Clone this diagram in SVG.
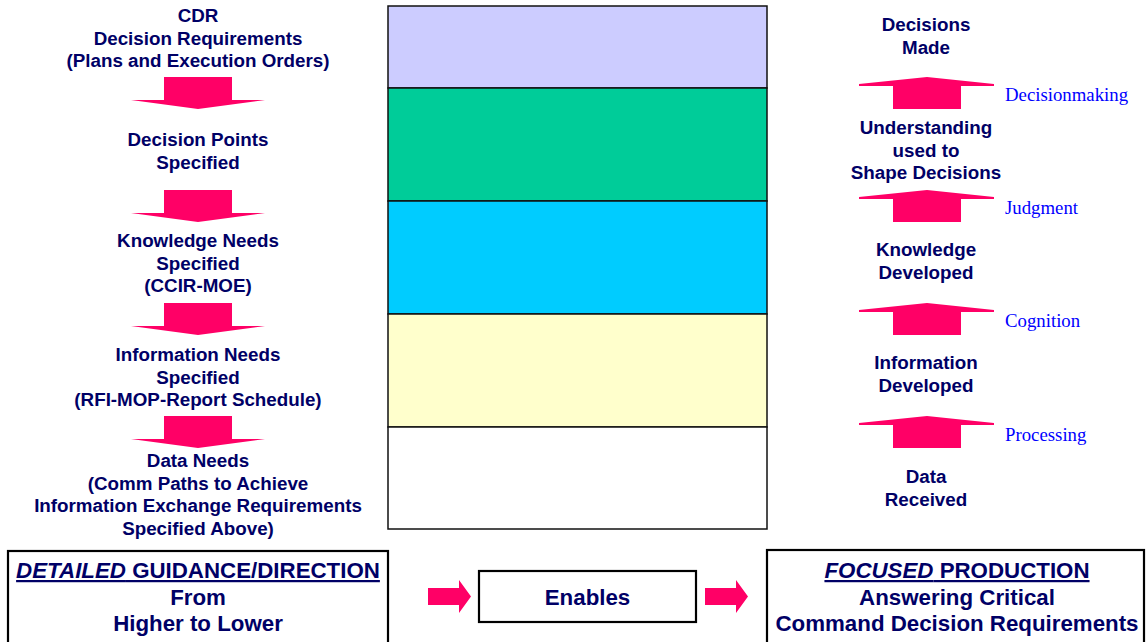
<svg xmlns="http://www.w3.org/2000/svg" width="1146" height="642" viewBox="0 0 1146 642">
  <style>
    .lbl { font-family: "Liberation Sans", Arial, sans-serif; font-weight: bold; font-size: 18.8px; fill: #000066; text-anchor: middle; }
    .big { font-family: "Liberation Sans", Arial, sans-serif; font-weight: bold; font-size: 22.3px; fill: #000066; text-anchor: middle; }
    .proc { font-family: "Liberation Serif", "Times New Roman", serif; font-size: 18.8px; fill: #0000FF; }
    .band { stroke: #111111; stroke-width: 1.5; }
    .box { fill: #FFFFFF; stroke: #000000; stroke-width: 2.2; }
    .arrow { fill: #FF0066; }
  </style>
  <defs>
    <!-- flat downward block arrow, tip at (0,32) -->
    <polygon id="down" class="arrow" points="-34,0 34,0 34,23 67,23 0,32 -67,23 -34,23"/>
    <!-- flat upward block arrow, tip at (0,0) -->
    <polygon id="up" class="arrow" points="0,0 67,7 67,9 34,9 34,32 -34,32 -34,9 -68,9 -68,7"/>
    <!-- small right-pointing block arrow -->
    <polygon id="right" class="arrow" points="0,8 31,8 31,0 43,16.5 31,33 31,25 0,25"/>
  </defs>
  <rect width="1146" height="642" fill="#FFFFFF"/>

  <!-- central stacked bands -->
  <g id="bands">
    <rect class="band" x="388" y="6" width="379" height="82" fill="#CCCCFF"/>
    <rect class="band" x="388" y="88" width="379" height="113" fill="#00CC99"/>
    <rect class="band" x="388" y="201" width="379" height="113" fill="#00CCFF"/>
    <rect class="band" x="388" y="314" width="379" height="113" fill="#FFFFCC"/>
    <rect class="band" x="388" y="427" width="379" height="102" fill="#FFFFFF"/>
  </g>

  <!-- left column: requirements flowing down -->
  <g id="cdr">
    <text class="lbl" x="198" y="22">CDR</text>
    <text class="lbl" x="198" y="44.5">Decision Requirements</text>
    <text class="lbl" x="198" y="67">(Plans and Execution Orders)</text>
  </g>
  <g id="decision-points">
    <text class="lbl" x="198" y="146">Decision Points</text>
    <text class="lbl" x="198" y="168.5">Specified</text>
  </g>
  <g id="knowledge-needs">
    <text class="lbl" x="198" y="247">Knowledge Needs</text>
    <text class="lbl" x="198" y="269.5">Specified</text>
    <text class="lbl" x="198" y="292">(CCIR-MOE)</text>
  </g>
  <g id="information-needs">
    <text class="lbl" x="198" y="361">Information Needs</text>
    <text class="lbl" x="198" y="383.5">Specified</text>
    <text class="lbl" x="198" y="406">(RFI-MOP-Report Schedule)</text>
  </g>
  <g id="data-needs">
    <text class="lbl" x="198" y="467">Data Needs</text>
    <text class="lbl" x="198" y="489.5">(Comm Paths to Achieve</text>
    <text class="lbl" x="198" y="512">Information Exchange Requirements</text>
    <text class="lbl" x="198" y="534.5">Specified Above)</text>
  </g>

  <!-- right column: products flowing up -->
  <g id="decisions-made">
    <text class="lbl" x="926" y="31">Decisions</text>
    <text class="lbl" x="926" y="54">Made</text>
  </g>
  <g id="understanding">
    <text class="lbl" x="926" y="134">Understanding</text>
    <text class="lbl" x="926" y="156.5">used to</text>
    <text class="lbl" x="926" y="179">Shape Decisions</text>
  </g>
  <g id="knowledge-developed">
    <text class="lbl" x="926" y="256">Knowledge</text>
    <text class="lbl" x="926" y="279">Developed</text>
  </g>
  <g id="information-developed">
    <text class="lbl" x="926" y="369">Information</text>
    <text class="lbl" x="926" y="392">Developed</text>
  </g>
  <g id="data-received">
    <text class="lbl" x="926" y="483">Data</text>
    <text class="lbl" x="926" y="506">Received</text>
  </g>

  <!-- process labels beside the upward arrows -->
  <g id="process-labels">
    <text class="proc" x="1005" y="101">Decisionmaking</text>
    <text class="proc" x="1005" y="214">Judgment</text>
    <text class="proc" x="1005" y="327">Cognition</text>
    <text class="proc" x="1005" y="441">Processing</text>
  </g>

  <!-- bottom summary boxes -->
  <g id="guidance">
    <rect class="box" x="8" y="551" width="380" height="100"/>
    <text class="big" x="198" y="578" text-decoration="underline"><tspan font-style="italic">DETAILED</tspan> GUIDANCE/DIRECTION</text>
    <text class="big" x="198" y="605">From</text>
    <text class="big" x="198" y="631">Higher to Lower</text>
  </g>
  <g id="enables">
    <rect class="box" x="479" y="571" width="217" height="51"/>
    <text class="big" x="587.5" y="605">Enables</text>
  </g>
  <g id="production">
    <rect class="box" x="767" y="550" width="377" height="100"/>
    <text class="big" x="957" y="578" text-decoration="underline"><tspan font-style="italic">FOCUSED</tspan> PRODUCTION</text>
    <text class="big" x="957" y="605">Answering Critical</text>
    <text class="big" x="957" y="631">Command Decision Requirements</text>
  </g>

  <!-- connectors -->
  <g id="connectors">
    <use href="#down" x="198" y="77"/>
    <use href="#down" x="198" y="190"/>
    <use href="#down" x="198" y="303"/>
    <use href="#down" x="198" y="416"/>
    <use href="#up" x="927" y="77"/>
    <use href="#up" x="927" y="190"/>
    <use href="#up" x="927" y="303"/>
    <use href="#up" x="927" y="416"/>
    <use href="#right" x="428" y="580"/>
    <use href="#right" x="705" y="580"/>
  </g>
</svg>
